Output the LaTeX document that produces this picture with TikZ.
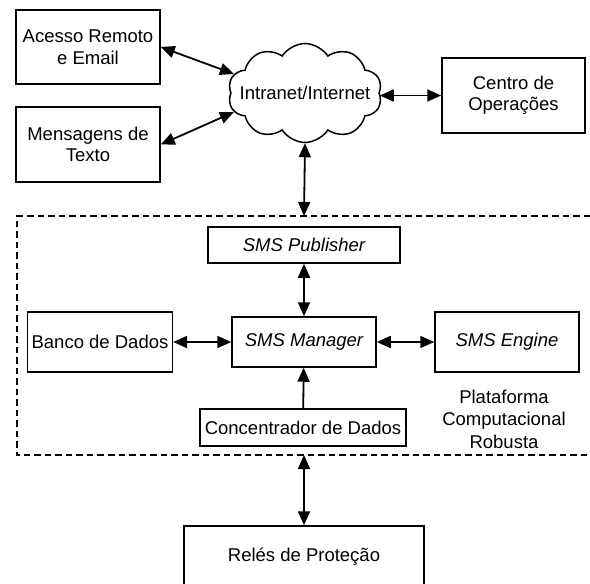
\documentclass[tikz,border=0pt]{standalone}
\usepackage{fontspec}
\setmainfont{Liberation Sans}
\usetikzlibrary{arrows.meta,shapes.symbols}

\tikzset{
    bloco/.style={draw,line width=1.5pt,inner sep=4pt,align=center,
        font=\fontsize{18.5}{21.5}\selectfont},
    seta/.style={line width=1.8pt,{Triangle[length=14pt,width=12pt]}-{Triangle[length=14pt,width=12pt]}},
    setaum/.style={line width=1.8pt,-{Triangle[length=14pt,width=12pt]}},
}

\begin{document}
\begin{tikzpicture}[x=1pt,y=-1pt]
    \useasboundingbox (0,0) rectangle (590,584);
    % Blocos externos
    \node[bloco,minimum width=144,minimum height=74] (acesso) at (88,47) {Acesso Remoto\\e Email};
    \node[bloco,minimum width=144,minimum height=75] (mensagens) at (88,144.5) {Mensagens de\\Texto};
    \node[bloco,minimum width=143,minimum height=75] (centro) at (513.5,95.5) {Centro de\\Opera\c{c}\~oes};
    \node[bloco,cloud,cloud puffs=10,cloud puff arc=115,inner sep=0pt,
          minimum width=154,minimum height=99] (nuvem) at (305,93) {\makebox[0pt]{Intranet/Internet}};
    % Plataforma (caixa tracejada, aberta a direita)
    \coordinate (PT) at (304,216); % Topo
    \coordinate (PB) at (304,455); % Base
    \draw[line width=1.5pt,dash pattern=on 6.5pt off 4pt] (590,216) -- (17,216) -- (17,455) -- (590,455);
    \node[bloco,minimum width=192,minimum height=36] (publisher) at (304,245) {\itshape SMS Publisher};
    \node[bloco,minimum width=144,minimum height=50] (manager) at (304,342) {\itshape SMS Manager};
    \node[bloco,minimum width=144,minimum height=60] (banco) at (100,342) {Banco de Dados};
    \node[bloco,minimum width=144,minimum height=60] (engine) at (507,342) {\itshape SMS Engine};
    \node[bloco,minimum width=206,minimum height=37] (concentrador) at (303,427.5) {Concentrador de Dados};
    \node[align=center,font=\fontsize{18.5}{22.5}\selectfont] (plataforma) at (504,419) {Plataforma\\Computacional\\Robusta};
    % Reles
    \node[bloco,minimum width=240,minimum height=62] (reles) at (304,557) {Rel\'es de Prote\c{c}\~ao};
    % Conexoes
    \draw[seta] (acesso.east) -- (nuvem.165);
    \draw[seta] (mensagens.east) -- (nuvem.195);
    \draw[seta] (nuvem.east |- centro.west) -- (centro.west);
    \draw[seta] (nuvem.south) -- (PT);
    \draw[seta] (publisher) -- (manager);
    \draw[seta] (banco) -- (manager);
    \draw[seta] (manager) -- (engine);
    \draw[setaum] (concentrador) -- (manager);
    \draw[seta] (PB) -- (reles);
\end{tikzpicture}
\end{document}
